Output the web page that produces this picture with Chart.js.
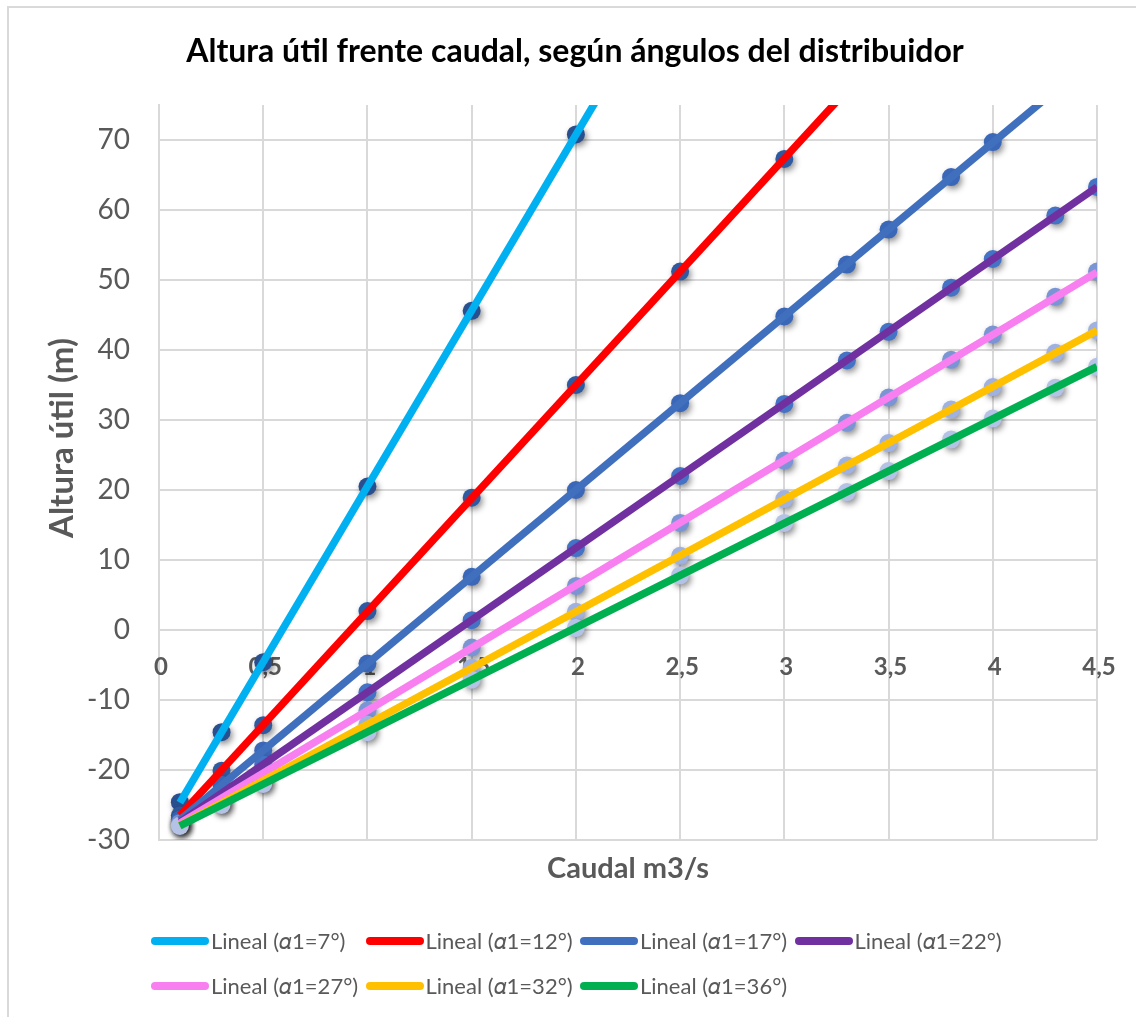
<!DOCTYPE html>
<html>
<head>
<meta charset="utf-8">
<script src="https://cdn.jsdelivr.net/npm/chart.js@4.4.1/dist/chart.umd.min.js"></script>
<style>
  html, body { margin: 0; padding: 0; background: #fff; width: 1136px; height: 1017px; overflow: hidden; }
  #frame { position: absolute; left: 7px; top: 6px; width: 1140px; height: 1020px; border: 2px solid #d9d9d9; box-sizing: border-box; }
  #wrap { position: absolute; left: 9px; top: 8px; width: 1136px; height: 1016px; }
  #legend { position: absolute; left: 151px; top: 918px; width: 900px; font-family: Lato, "DejaVu Sans", sans-serif; font-size: 22px; color: #595959; }
  .row { height: 45px; display: flex; align-items: center; }
  .item { width: 214.5px; display: flex; align-items: center; white-space: nowrap; }
  .swatch { width: 58px; height: 8px; border-radius: 4px; flex: none; margin-right: 2px; }
</style>
</head>
<body>
<div id="frame"></div>
<div id="wrap"><canvas id="grafico" width="1136" height="1016"></canvas></div>
<div id="legend"></div>
<script>
// caudal (m3/s) comun a todas las series
const caudal = [0.1, 0.3, 0.5, 1, 1.5, 2, 2.5, 3, 3.3, 3.5, 3.8, 4, 4.3, 4.5];
const angulos = ["7°", "12°", "17°", "22°", "27°", "32°", "36°"];

// altura util (m) por angulo; null = fuera del grafico
const h7  = [-24.6, -14.6, -4.6, 20.5, 45.6, 70.8, null, null, null, null, null, null, null, null];
const h12 = [-26.5, -20.1, -13.6, 2.7, 18.9, 35.0, 51.2, 67.3, null, null, null, null, null, null];
const h17 = [-27.1, -22.1, -17.2, -4.8, 7.6, 20.0, 32.4, 44.8, 52.2, 57.2, 64.7, 69.7, null, null];
const h22 = [-27.4, -23.3, -19.2, -8.9, 1.4, 11.7, 22.0, 32.3, 38.5, 42.6, 48.9, 53.0, 59.2, 63.3];
const h27 = [-27.6, -24.0, -20.4, -11.5, -2.5, 6.3, 15.3, 24.2, 29.6, 33.2, 38.6, 42.2, 47.6, 51.2];
const h32 = [-27.9, -24.7, -21.5, -13.5, -5.4, 2.6, 10.6, 18.7, 23.5, 26.7, 31.5, 34.7, 39.6, 42.8];
const h36 = [-28.0, -25.0, -22.0, -14.6, -7.1, 0.3, 7.8, 15.3, 19.7, 22.7, 27.2, 30.2, 34.6, 37.6];
const alturas = [h7, h12, h17, h22, h27, h32, h36];

const xTickValues = [0, 0.5, 1, 1.5, 2, 2.5, 3, 3.5, 4, 4.5];
const xTickLabels = ["0", "0,5", "1", "1,5", "2", "2,5", "3", "3,5", "4", "4,5"];

const coloresLinea = ["#00b0f0", "#ff0000", "#4070bd", "#7030a0", "#f87ff0", "#ffc000", "#00b050"];
const coloresPunto = ["#2a4f8f", "#2f5aa0", "#3b67b8", "#4472c4", "#7b95d4", "#9fb1e0", "#b4c2e6"];

const FONT = "Lato, 'DejaVu Sans', sans-serif";
const GRIS = "#595959";

// recta de minimos cuadrados (linea de tendencia)
function tendencia(xs, ys) {
  let n = 0, sx = 0, sy = 0, sxx = 0, sxy = 0;
  xs.forEach((x, i) => {
    if (ys[i] === null) return;
    n++; sx += x; sy += ys[i]; sxx += x * x; sxy += x * ys[i];
  });
  const b = (n * sxy - sx * sy) / (n * sxx - sx * sx);
  const a = (sy - b * sx) / n;
  const x0 = xs[0], x1 = xs[xs.length - 1];
  return [{ x: x0, y: a + b * x0 }, { x: x1, y: a + b * x1 }];
}

const datasets = [];
alturas.forEach((h, i) => {
  datasets.push({
    type: "scatter",
    label: "α1=" + angulos[i],
    data: caudal.map((x, j) => ({ x: x, y: h[j] })),
    backgroundColor: coloresPunto[i],
    borderWidth: 0,
    pointRadius: 9,
    order: 30 - i
  });
  datasets.push({
    type: "line",
    label: "Lineal (𝛼1=" + angulos[i] + ")",
    data: tendencia(caudal, h),
    borderColor: coloresLinea[i],
    borderWidth: 7.5,
    pointRadius: 0,
    fill: false,
    clip: 0,
    order: 10 - i
  });
});

const sombra = {
  id: "sombra",
  beforeDatasetDraw(chart, args) {
    if (args.meta.type !== "scatter") return;
    const ctx = chart.ctx;
    ctx.save();
    ctx.shadowColor = "rgba(0,0,0,0.45)";
    ctx.shadowBlur = 6;
    ctx.shadowOffsetX = 2;
    ctx.shadowOffsetY = 3;
  },
  afterDatasetDraw(chart, args) {
    if (args.meta.type !== "scatter") return;
    chart.ctx.restore();
  }
};

const textos = {
  id: "textos",
  beforeDatasetsDraw(chart) {
    // etiquetas del eje X sobre la linea y=0
    const ctx = chart.ctx, x = chart.scales.x, y = chart.scales.y;
    ctx.save();
    ctx.font = "bold 24px " + FONT;
    ctx.fillStyle = GRIS;
    ctx.textAlign = "center";
    ctx.textBaseline = "middle";
    const y0 = y.getPixelForValue(0) + 37;
    xTickValues.forEach((v, i) => ctx.fillText(xTickLabels[i], x.getPixelForValue(v) + 2, y0));
    ctx.restore();
  },
  afterDraw(chart) {
    const ctx = chart.ctx;
    ctx.save();
    ctx.textAlign = "center";
    ctx.textBaseline = "middle";
    ctx.fillStyle = "#000";
    ctx.font = "bold 32px " + FONT;
    ctx.fillText("Altura útil frente caudal, según ángulos del distribuidor", 566, 44);
    ctx.fillStyle = GRIS;
    ctx.font = "bold 29px " + FONT;
    ctx.fillText("Caudal m3/s", 619, 861);
    ctx.translate(53, 430);
    ctx.rotate(-Math.PI / 2);
    ctx.font = "bold 33px " + FONT;
    ctx.fillText("Altura útil (m)", 0, 0);
    ctx.restore();
  }
};

new Chart(document.getElementById("grafico"), {
  data: { datasets: datasets },
  options: {
    responsive: false,
    animation: false,
    layout: { padding: { left: 0, top: 97, right: 48, bottom: 0 } },
    plugins: { legend: { display: false }, title: { display: false }, tooltip: { enabled: false } },
    scales: {
      x: {
        type: "linear",
        min: 0,
        max: 4.5,
        ticks: { display: false, stepSize: 0.5 },
        grid: { color: "#d9d9d9", lineWidth: 2, drawTicks: false },
        border: { display: false },
        afterFit(scale) { scale.height = 184; }
      },
      y: {
        min: -30,
        max: 75,
        ticks: {
          stepSize: 10,
          padding: 29,
          color: GRIS,
          font: { family: FONT, size: 28 },
          callback: v => (v === 75 ? "" : v)
        },
        grid: {
          drawTicks: false,
          lineWidth: 2,
          color: c => (c.tick && c.tick.value === 75 ? "rgba(0,0,0,0)" : "#d9d9d9")
        },
        border: { display: true, color: "#d9d9d9", width: 2 },
        afterFit(scale) { scale.width = 150; }
      }
    }
  },
  plugins: [sombra, textos]
});

// leyenda (solo las lineas de tendencia)
const leg = document.getElementById("legend");
let fila;
angulos.forEach((a, i) => {
  if (i % 4 === 0) { fila = document.createElement("div"); fila.className = "row"; leg.appendChild(fila); }
  const it = document.createElement("div");
  it.className = "item";
  it.innerHTML = '<span class="swatch" style="background:' + coloresLinea[i] + '"></span><span>Lineal (𝛼1=' + a + ')</span>';
  fila.appendChild(it);
});
</script>
</body>
</html>
